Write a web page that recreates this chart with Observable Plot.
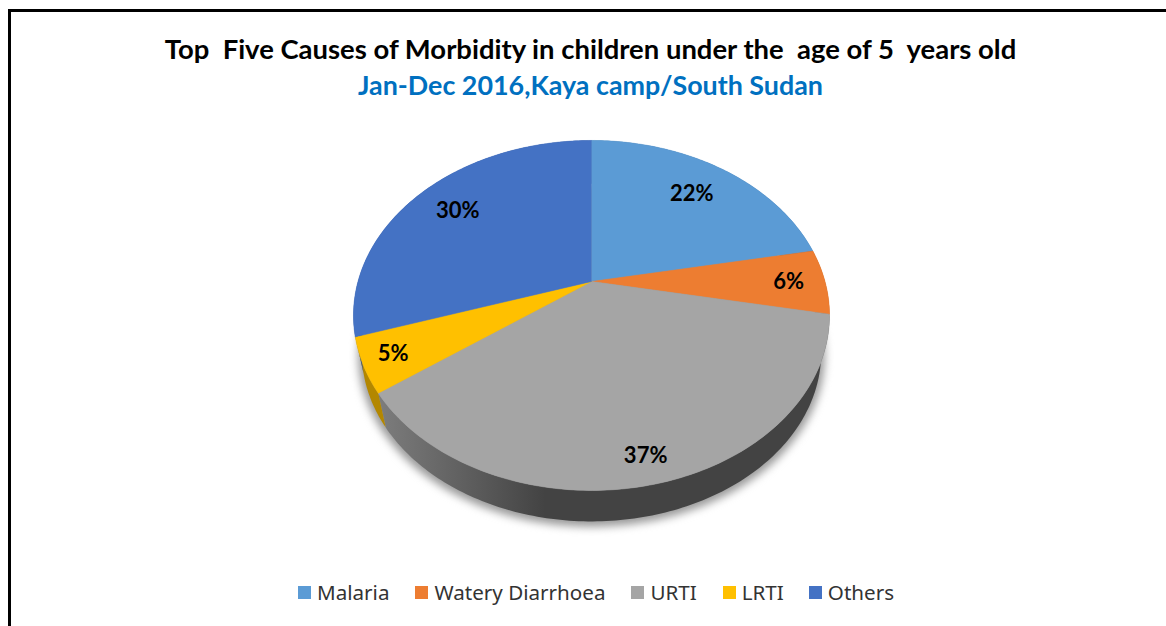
<!DOCTYPE html>
<html>
<head>
<meta charset="utf-8">
<script src="https://cdn.jsdelivr.net/npm/d3@7"></script>
<script src="https://cdn.jsdelivr.net/npm/@observablehq/plot@0.6"></script>
<style>
  html, body { margin: 0; padding: 0; background: #fff; }
  #page { position: relative; width: 1166px; height: 626px; overflow: hidden; }
  #frame { position: absolute; left: 8px; top: 9px; right: 0; bottom: 0; border-left: 3px solid #000; border-top: 3px solid #000; }
  #title { position: absolute; left: 0; width: 1181px; top: 32px; text-align: center; white-space: pre;
           font: 700 27.45px/34px Lato, sans-serif; color: #000; }
  #subtitle { position: absolute; left: 0; width: 1181px; top: 68px; text-align: center; white-space: pre;
              font: 700 26.85px/34px Lato, sans-serif; color: #0070C0; }
  #chart { position: absolute; left: 0; top: 100px; }
  #legend { position: absolute; left: 298px; top: 578px; height: 28px; display: flex; align-items: center;
            font: 400 20.6px/28px "Noto Sans", sans-serif; color: #333; white-space: nowrap; }
  #legend .key { display: flex; align-items: center; }
  #legend .swatch { width: 13px; height: 13px; margin-right: 6px; }
</style>
</head>
<body>
<div id="page">
  <div id="frame"></div>
  <div id="title"></div>
  <div id="subtitle"></div>
  <div id="chart"></div>
  <div id="legend"></div>
</div>
<script>
const titleText = "Top  Five Causes of Morbidity in children under the  age of 5  years old";
const subtitleText = "Jan-Dec 2016,Kaya camp/South Sudan";
const causes = ["Malaria", "Watery Diarrhoea", "URTI", "LRTI", "Others"];
const shares = [22, 6, 37, 5, 30];
const faceColors = ["#5B9BD5", "#ED7D31", "#A5A5A5", "#FFC000", "#4472C4"];
const wallColors = ["#3f6f9c", "#a8561f", "url(#wallShade)", "#b38700", "#2f5190"];

// Tilted-disc projection: the far edge of the pie is foreshortened against the near edge.
const tilt = 0.194;
const labelReach = [0.75, 0.844, 0.885, 0.88, 0.77];
const lowerDisc = {scale: 0.965, drop: 0.2274};
const topDisc = {scale: 1, drop: 0};

function project(angle, radius, disc) {
  const across = radius * Math.sin(angle);
  const along = radius * Math.cos(angle);
  const depth = 1 + tilt * along;
  return {x: disc.scale * across / depth, y: disc.scale * along / depth - disc.drop};
}

const arcs = d3.pie().sort(null).value((d) => d)(shares);

function rim(arc, disc) {
  const steps = Math.max(2, Math.ceil((arc.endAngle - arc.startAngle) * 60));
  return d3.range(steps + 1).map((i) =>
    project(arc.startAngle + (arc.endAngle - arc.startAngle) * i / steps, 1, disc));
}

const faces = arcs.flatMap((arc, i) =>
  [{x: 0, y: 0}, ...rim(arc, topDisc)].map((p) => ({...p, cause: causes[i]})));

const walls = arcs.flatMap((arc, i) =>
  [...rim(arc, topDisc), ...rim(arc, lowerDisc).reverse()].map((p) => ({...p, paint: wallColors[i], cause: causes[i]})));

const shadow = d3.range(0, 361, 2).map((deg) => project(deg * Math.PI / 180, 1, {scale: 0.98, drop: 0.24}));

const labels = arcs.map((arc, i) => ({
  ...project((arc.startAngle + arc.endAngle) / 2, labelReach[i], topDisc),
  text: `${shares[i]}%`
}));

const plot = Plot.plot({
  width: 1166,
  height: 470,
  margin: 0,
  x: {domain: [-1, 1], range: [357.5, 824.5], axis: null},
  y: {domain: [-1, 1], range: [349.4, 12.6], axis: null},
  color: {domain: causes, range: faceColors},
  style: {background: "transparent", overflow: "visible"},
  marks: [
    Plot.line(shadow, {x: "x", y: "y", fill: "#999999", stroke: "none", imageFilter: "blur(4px)"}),
    Plot.line(walls, {x: "x", y: "y", z: "cause", fill: {value: "paint", scale: null}, stroke: "none"}),
    Plot.line(faces, {x: "x", y: "y", z: "cause", fill: "cause", stroke: "cause", strokeWidth: 0.5}),
    Plot.text(labels, {x: "x", y: "y", text: "text", fontSize: 22, fontWeight: 700,
      fontFamily: "Lato, sans-serif", fill: "#000"})
  ]
});

// Shading across the front of the pie wall, lighter toward the left edge.
const gradient = d3.select(plot).insert("defs", ":first-child")
  .append("linearGradient").attr("id", "wallShade")
  .attr("x1", "0%").attr("x2", "37%").attr("y1", "0%").attr("y2", "0%");
gradient.append("stop").attr("offset", "0%").attr("stop-color", "#7d7d7d");
gradient.append("stop").attr("offset", "100%").attr("stop-color", "#434343");

document.getElementById("chart").append(plot);
document.getElementById("title").textContent = titleText;
document.getElementById("subtitle").textContent = subtitleText;

// Legend row below the plot.
const legendGaps = [0, 26, 26, 26, 25];
const legend = d3.select("#legend");
causes.forEach((cause, i) => {
  const key = legend.append("div").attr("class", "key").style("margin-left", `${legendGaps[i]}px`);
  key.append("div").attr("class", "swatch").style("background", faceColors[i]);
  key.append("div").text(cause);
});
</script>
</body>
</html>
